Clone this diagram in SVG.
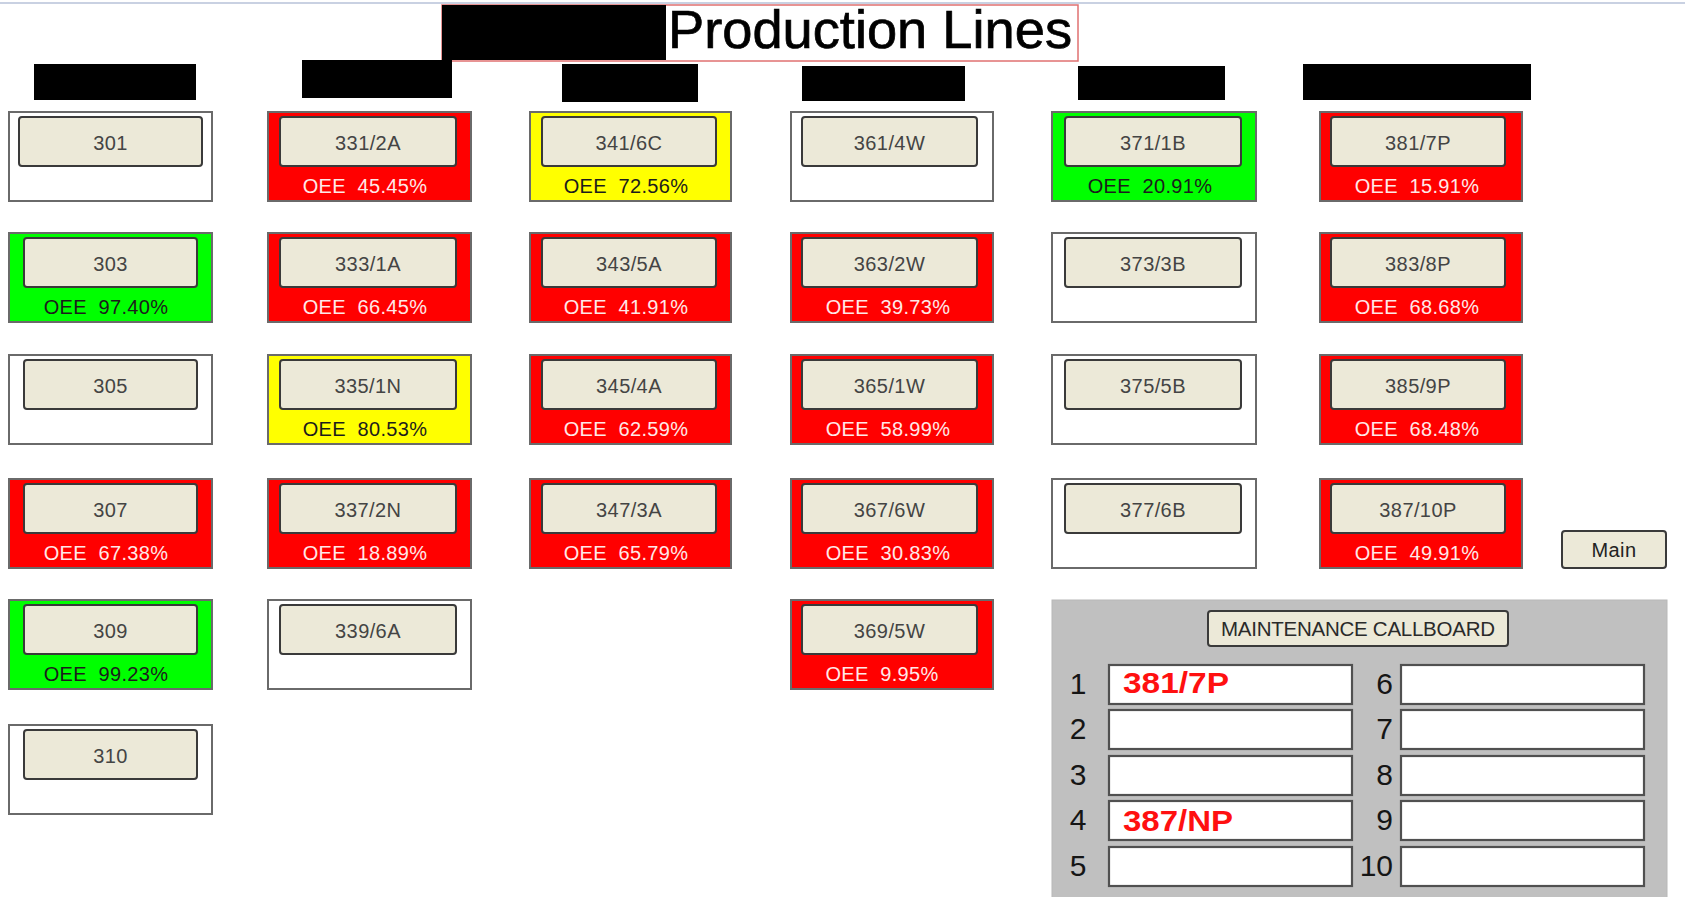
<svg xmlns="http://www.w3.org/2000/svg" width="1685" height="897" viewBox="0 0 1685 897">
<style>
text{font-family:"Liberation Sans",Arial,sans-serif}
.box{stroke:#6a6a6a;stroke-width:2}
.w{fill:#ffffff}.r{fill:#ff0000}.g{fill:#00ff00}.y{fill:#ffff00}
.btn{fill:#ece9d8;stroke:#3a3a3a;stroke-width:2}
.bt{font-size:20px;fill:#444;text-anchor:middle;letter-spacing:0.4px}
.oee{font-size:20px;text-anchor:middle;white-space:pre;letter-spacing:0.3px}
.ol{fill:#ffe8e8}.od{fill:#1c1c1c}
.lbl{fill:#000}
.fld{fill:#fff;stroke:#505050;stroke-width:2.2}
.num{font-size:30px;fill:#151515}
.call{font-size:29px;font-weight:bold;fill:#ff1010}
</style>
<rect x="0" y="0" width="1685" height="897" fill="#fff"/>
<line x1="0" y1="3" x2="1685" y2="3" stroke="#c9d1e2" stroke-width="2"/>

<g id="title">
<rect x="442" y="5" width="636" height="56" fill="none" stroke="#e07070" stroke-width="1.5"/>
<rect x="442" y="5" width="224" height="55" class="lbl"/>
<text x="668" y="48" font-size="53" textLength="404" lengthAdjust="spacingAndGlyphs" fill="#000" stroke="#000" stroke-width="0.7">Production Lines</text>
</g>

<g id="labels">
<rect x="34" y="64" width="162" height="36" class="lbl"/>
<rect x="302" y="60" width="150" height="38" class="lbl"/>
<rect x="562" y="64" width="136" height="38" class="lbl"/>
<rect x="802" y="66" width="163" height="35" class="lbl"/>
<rect x="1078" y="66" width="147" height="34" class="lbl"/>
<rect x="1303" y="64" width="228" height="36" class="lbl"/>
</g>

<!-- Column 1 -->
<g id="n301"><rect x="9" y="112" width="203" height="89" class="box w"/><rect x="19" y="117" width="183" height="49" rx="3" class="btn"/><text x="110.5" y="150" class="bt">301</text></g>
<g id="n303"><rect x="9" y="233" width="203" height="89" class="box g"/><rect x="24" y="238" width="173" height="49" rx="3" class="btn"/><text x="110.5" y="271" class="bt">303</text><text x="106" y="314" class="oee od">OEE  97.40%</text></g>
<g id="n305"><rect x="9" y="355" width="203" height="89" class="box w"/><rect x="24" y="360" width="173" height="49" rx="3" class="btn"/><text x="110.5" y="393" class="bt">305</text></g>
<g id="n307"><rect x="9" y="479" width="203" height="89" class="box r"/><rect x="24" y="484" width="173" height="49" rx="3" class="btn"/><text x="110.5" y="517" class="bt">307</text><text x="106" y="560" class="oee ol">OEE  67.38%</text></g>
<g id="n309"><rect x="9" y="600" width="203" height="89" class="box g"/><rect x="24" y="605" width="173" height="49" rx="3" class="btn"/><text x="110.5" y="638" class="bt">309</text><text x="106" y="681" class="oee od">OEE  99.23%</text></g>
<g id="n310"><rect x="9" y="725" width="203" height="89" class="box w"/><rect x="24" y="730" width="173" height="49" rx="3" class="btn"/><text x="110.5" y="763" class="bt">310</text></g>

<!-- Column 2 -->
<g id="n331"><rect x="268" y="112" width="203" height="89" class="box r"/><rect x="280" y="117" width="176" height="49" rx="3" class="btn"/><text x="368" y="150" class="bt">331/2A</text><text x="365" y="193" class="oee ol">OEE  45.45%</text></g>
<g id="n333"><rect x="268" y="233" width="203" height="89" class="box r"/><rect x="280" y="238" width="176" height="49" rx="3" class="btn"/><text x="368" y="271" class="bt">333/1A</text><text x="365" y="314" class="oee ol">OEE  66.45%</text></g>
<g id="n335"><rect x="268" y="355" width="203" height="89" class="box y"/><rect x="280" y="360" width="176" height="49" rx="3" class="btn"/><text x="368" y="393" class="bt">335/1N</text><text x="365" y="436" class="oee od">OEE  80.53%</text></g>
<g id="n337"><rect x="268" y="479" width="203" height="89" class="box r"/><rect x="280" y="484" width="176" height="49" rx="3" class="btn"/><text x="368" y="517" class="bt">337/2N</text><text x="365" y="560" class="oee ol">OEE  18.89%</text></g>
<g id="n339"><rect x="268" y="600" width="203" height="89" class="box w"/><rect x="280" y="605" width="176" height="49" rx="3" class="btn"/><text x="368" y="638" class="bt">339/6A</text></g>

<!-- Column 3 -->
<g id="n341"><rect x="530" y="112" width="201" height="89" class="box y"/><rect x="542" y="117" width="174" height="49" rx="3" class="btn"/><text x="629" y="150" class="bt">341/6C</text><text x="626" y="193" class="oee od">OEE  72.56%</text></g>
<g id="n343"><rect x="530" y="233" width="201" height="89" class="box r"/><rect x="542" y="238" width="174" height="49" rx="3" class="btn"/><text x="629" y="271" class="bt">343/5A</text><text x="626" y="314" class="oee ol">OEE  41.91%</text></g>
<g id="n345"><rect x="530" y="355" width="201" height="89" class="box r"/><rect x="542" y="360" width="174" height="49" rx="3" class="btn"/><text x="629" y="393" class="bt">345/4A</text><text x="626" y="436" class="oee ol">OEE  62.59%</text></g>
<g id="n347"><rect x="530" y="479" width="201" height="89" class="box r"/><rect x="542" y="484" width="174" height="49" rx="3" class="btn"/><text x="629" y="517" class="bt">347/3A</text><text x="626" y="560" class="oee ol">OEE  65.79%</text></g>

<!-- Column 4 -->
<g id="n361"><rect x="791" y="112" width="202" height="89" class="box w"/><rect x="802" y="117" width="175" height="49" rx="3" class="btn"/><text x="889.5" y="150" class="bt">361/4W</text></g>
<g id="n363"><rect x="791" y="233" width="202" height="89" class="box r"/><rect x="802" y="238" width="175" height="49" rx="3" class="btn"/><text x="889.5" y="271" class="bt">363/2W</text><text x="888" y="314" class="oee ol">OEE  39.73%</text></g>
<g id="n365"><rect x="791" y="355" width="202" height="89" class="box r"/><rect x="802" y="360" width="175" height="49" rx="3" class="btn"/><text x="889.5" y="393" class="bt">365/1W</text><text x="888" y="436" class="oee ol">OEE  58.99%</text></g>
<g id="n367"><rect x="791" y="479" width="202" height="89" class="box r"/><rect x="802" y="484" width="175" height="49" rx="3" class="btn"/><text x="889.5" y="517" class="bt">367/6W</text><text x="888" y="560" class="oee ol">OEE  30.83%</text></g>
<g id="n369"><rect x="791" y="600" width="202" height="89" class="box r"/><rect x="802" y="605" width="175" height="49" rx="3" class="btn"/><text x="889.5" y="638" class="bt">369/5W</text><text x="882" y="681" class="oee ol">OEE  9.95%</text></g>

<!-- Column 5 -->
<g id="n371"><rect x="1052" y="112" width="204" height="89" class="box g"/><rect x="1065" y="117" width="176" height="49" rx="3" class="btn"/><text x="1153" y="150" class="bt">371/1B</text><text x="1150" y="193" class="oee od">OEE  20.91%</text></g>
<g id="n373"><rect x="1052" y="233" width="204" height="89" class="box w"/><rect x="1065" y="238" width="176" height="49" rx="3" class="btn"/><text x="1153" y="271" class="bt">373/3B</text></g>
<g id="n375"><rect x="1052" y="355" width="204" height="89" class="box w"/><rect x="1065" y="360" width="176" height="49" rx="3" class="btn"/><text x="1153" y="393" class="bt">375/5B</text></g>
<g id="n377"><rect x="1052" y="479" width="204" height="89" class="box w"/><rect x="1065" y="484" width="176" height="49" rx="3" class="btn"/><text x="1153" y="517" class="bt">377/6B</text></g>

<!-- Column 6 -->
<g id="n381"><rect x="1320" y="112" width="202" height="89" class="box r"/><rect x="1331" y="117" width="174" height="49" rx="3" class="btn"/><text x="1418" y="150" class="bt">381/7P</text><text x="1417" y="193" class="oee ol">OEE  15.91%</text></g>
<g id="n383"><rect x="1320" y="233" width="202" height="89" class="box r"/><rect x="1331" y="238" width="174" height="49" rx="3" class="btn"/><text x="1418" y="271" class="bt">383/8P</text><text x="1417" y="314" class="oee ol">OEE  68.68%</text></g>
<g id="n385"><rect x="1320" y="355" width="202" height="89" class="box r"/><rect x="1331" y="360" width="174" height="49" rx="3" class="btn"/><text x="1418" y="393" class="bt">385/9P</text><text x="1417" y="436" class="oee ol">OEE  68.48%</text></g>
<g id="n387"><rect x="1320" y="479" width="202" height="89" class="box r"/><rect x="1331" y="484" width="174" height="49" rx="3" class="btn"/><text x="1418" y="517" class="bt">387/10P</text><text x="1417" y="560" class="oee ol">OEE  49.91%</text></g>

<g id="main"><rect x="1562" y="531" width="104" height="37" rx="3" class="btn"/><text x="1614" y="557" class="bt" style="fill:#222">Main</text></g>

<g id="callboard">
<rect x="1052" y="600" width="615" height="300" fill="#c0c0c0" stroke="#b8b8b8" stroke-width="1"/>
<rect x="1208" y="611" width="300" height="35" rx="3" class="btn"/>
<text x="1358" y="636" font-size="20.5" text-anchor="middle" textLength="274" lengthAdjust="spacing" fill="#2a2a2a">MAINTENANCE CALLBOARD</text>
<rect x="1109" y="665" width="243" height="39" class="fld"/>
<rect x="1109" y="710" width="243" height="39" class="fld"/>
<rect x="1109" y="756" width="243" height="39" class="fld"/>
<rect x="1109" y="801" width="243" height="39" class="fld"/>
<rect x="1109" y="847" width="243" height="39" class="fld"/>
<rect x="1401" y="665" width="243" height="39" class="fld"/>
<rect x="1401" y="710" width="243" height="39" class="fld"/>
<rect x="1401" y="756" width="243" height="39" class="fld"/>
<rect x="1401" y="801" width="243" height="39" class="fld"/>
<rect x="1401" y="847" width="243" height="39" class="fld"/>
<text x="1078" y="694" class="num" text-anchor="middle">1</text>
<text x="1078" y="739" class="num" text-anchor="middle">2</text>
<text x="1078" y="785" class="num" text-anchor="middle">3</text>
<text x="1078" y="830" class="num" text-anchor="middle">4</text>
<text x="1078" y="876" class="num" text-anchor="middle">5</text>
<text x="1393" y="694" class="num" text-anchor="end">6</text>
<text x="1393" y="739" class="num" text-anchor="end">7</text>
<text x="1393" y="785" class="num" text-anchor="end">8</text>
<text x="1393" y="830" class="num" text-anchor="end">9</text>
<text x="1393" y="876" class="num" text-anchor="end">10</text>
<text x="1123" y="693" class="call" textLength="106" lengthAdjust="spacingAndGlyphs">381/7P</text>
<text x="1123" y="831" class="call" textLength="110" lengthAdjust="spacingAndGlyphs">387/NP</text>
</g>
</svg>
